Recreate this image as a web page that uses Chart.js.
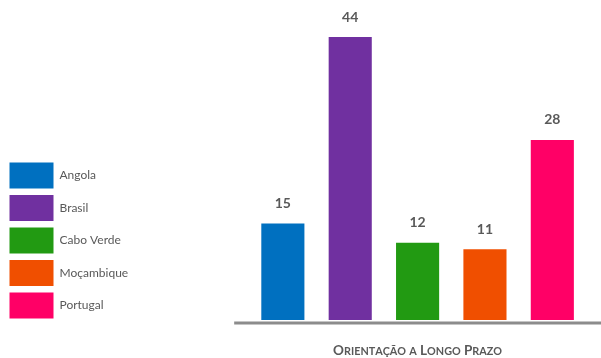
<!DOCTYPE html>
<html>
<head>
<meta charset="utf-8">
<script src="https://cdn.jsdelivr.net/npm/chart.js@4"></script>
<style>
  html, body { margin: 0; padding: 0; background: #fff; }
  #wrap { width: 601px; height: 358px; }
</style>
</head>
<body>
<div id="wrap"><canvas id="ltoChart"></canvas></div>
<script>
const countries = ["Angola", "Brasil", "Cabo Verde", "Moçambique", "Portugal"];
const scores = [15, 44, 12, 11, 28];
const barColors = ["#0070c0", "#7030a0", "#229a12", "#f04f00", "#ff0066"];
const axisTitle = "Orientação a Longo Prazo";

const textGray = "#595959";
const fontFamily = "Lato, sans-serif";

// One dataset per country so each gets its own legend entry
const datasets = countries.map((name, i) => ({
  label: name,
  data: countries.map((c, j) => (j === i ? scores[i] : null)),
  backgroundColor: barColors[i],
  barPercentage: 0.64,
  categoryPercentage: 1,
  skipNull: true,
}));

// draw text in small caps: capitals big, lower case letters uppercased and smaller
function drawSmallCaps(ctx, text, cx, y, big, small) {
  const parts = [...text].map((ch) => {
    const lower = ch !== ch.toUpperCase();
    return { ch: ch.toUpperCase(), size: lower ? small : big };
  });
  let total = 0;
  parts.forEach((p) => {
    ctx.font = "bold " + p.size + "px " + fontFamily;
    p.w = ctx.measureText(p.ch).width;
    total += p.w;
  });
  let x = cx - total / 2;
  ctx.textAlign = "left";
  ctx.textBaseline = "alphabetic";
  parts.forEach((p) => {
    ctx.font = "bold " + p.size + "px " + fontFamily;
    ctx.fillText(p.ch, x, y);
    x += p.w;
  });
}

// Value labels above bars, long grey baseline and axis caption
const valueLabels = {
  id: "valueLabels",
  afterLayout(chart) {
    // push the legend column down so it ends on the baseline
    chart.legend.top += 5;
    chart.legend.bottom += 5;
  },
  afterDatasetsDraw(chart) {
    const ctx = chart.ctx;
    const area = chart.chartArea;
    ctx.save();
    ctx.strokeStyle = "#8c8c8c";
    ctx.lineWidth = 3;
    ctx.beginPath();
    ctx.moveTo(area.left - 15, area.bottom + 3);
    ctx.lineTo(chart.width, area.bottom + 3);
    ctx.stroke();

    ctx.fillStyle = textGray;
    ctx.font = "bold 14px " + fontFamily;
    ctx.textAlign = "center";
    ctx.textBaseline = "middle";
    chart.data.datasets.forEach((ds, i) => {
      const bar = chart.getDatasetMeta(i).data[i];
      if (!bar) return;
      ctx.fillText(String(scores[i]), bar.x, bar.y - 20);
    });

    drawSmallCaps(ctx, axisTitle, (area.left + area.right) / 2, area.bottom + 35, 13.5, 10.8);
    ctx.restore();
  },
};

new Chart(document.getElementById("ltoChart"), {
  type: "bar",
  data: { labels: countries, datasets: datasets },
  options: {
    responsive: true,
    maintainAspectRatio: false,
    animation: false,
    layout: { padding: { top: 37, right: 15, bottom: 0, left: 3 } },
    plugins: {
      tooltip: { enabled: false },
      legend: {
        position: "left",
        align: "end",
        fullSize: false,
        labels: {
          boxWidth: 44,
          boxHeight: 26,
          padding: 6.5,
          color: textGray,
          font: { family: fontFamily, size: 12 },
        },
      },
    },
    scales: {
      x: {
        grid: { display: false },
        border: { display: false },
        ticks: { display: false },
        afterFit(scale) {
          scale.height = 38;
        },
      },
      y: {
        min: 0,
        max: 44,
        grid: { display: false },
        border: { display: false },
        ticks: { display: false },
        afterFit(scale) {
          scale.width = 111;
        },
      },
    },
  },
  plugins: [valueLabels],
});
</script>
</body>
</html>
